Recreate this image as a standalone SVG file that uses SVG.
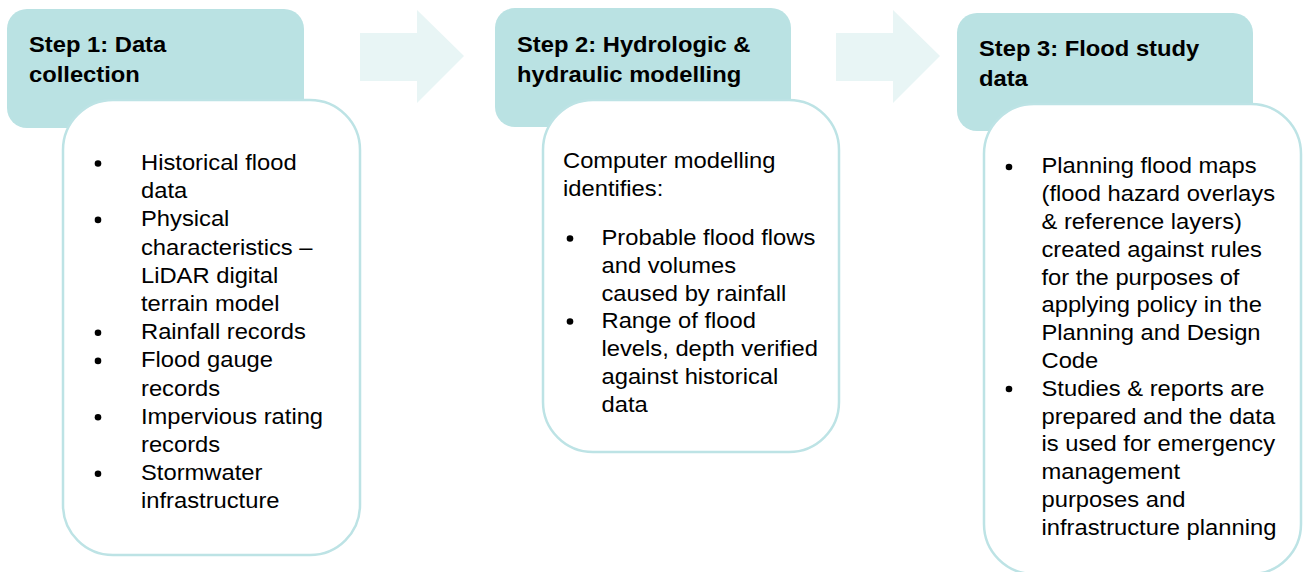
<svg xmlns="http://www.w3.org/2000/svg" width="1303" height="572" viewBox="0 0 1303 572">
<style>
.hdr{fill:#BAE2E3;}
.card{fill:#FFFFFF;stroke:#BDE3E5;stroke-width:2.5;}
.arrow{fill:#E8F5F5;}
.ht{font-family:"Liberation Sans",Arial,sans-serif;font-size:22px;font-weight:bold;fill:#000;}
.bt{font-family:"Liberation Sans",Arial,sans-serif;font-size:22px;fill:#000;}
.dot{fill:#000;}
</style>
<rect width="1303" height="572" fill="#FFFFFF"/>
<g id="connectors">
<polygon class="arrow" points="360,33 417,33 417,10 464,56 417,103 417,81 360,81"/>
<polygon class="arrow" points="836,33 893,33 893,10 940,56 893,103 893,81 836,81"/>
</g>
<g id="step1">
<rect class="hdr" x="7" y="9" width="297" height="119" rx="20"/>
<g transform="translate(29,0) scale(1.08,1)">
<text class="ht"><tspan x="0" y="52">Step 1: Data</tspan><tspan x="0" y="82">collection</tspan></text>
</g>
<rect class="card" x="63" y="100" width="297" height="455" rx="50"/>
<circle class="dot" cx="98" cy="163.5" r="3.3"/>
<circle class="dot" cx="98" cy="219.9" r="3.3"/>
<circle class="dot" cx="98" cy="332.7" r="3.3"/>
<circle class="dot" cx="98" cy="360.9" r="3.3"/>
<circle class="dot" cx="98" cy="417.3" r="3.3"/>
<circle class="dot" cx="98" cy="473.7" r="3.3"/>
<g transform="translate(141,0) scale(1.08,1)">
<text class="bt">
<tspan x="0" y="170">Historical flood</tspan>
<tspan x="0" y="198.2">data</tspan>
<tspan x="0" y="226.4">Physical</tspan>
<tspan x="0" y="254.6">characteristics –</tspan>
<tspan x="0" y="282.8">LiDAR digital</tspan>
<tspan x="0" y="311">terrain model</tspan>
<tspan x="0" y="339.2">Rainfall records</tspan>
<tspan x="0" y="367.4">Flood gauge</tspan>
<tspan x="0" y="395.6">records</tspan>
<tspan x="0" y="423.8">Impervious rating</tspan>
<tspan x="0" y="452">records</tspan>
<tspan x="0" y="480.2">Stormwater</tspan>
<tspan x="0" y="508.4">infrastructure</tspan>
</text>
</g>
</g>
<g id="step2">
<rect class="hdr" x="495" y="8" width="296" height="119" rx="20"/>
<g transform="translate(517,0) scale(1.08,1)">
<text class="ht"><tspan x="0" y="52">Step 2: Hydrologic &amp;</tspan><tspan x="0" y="82">hydraulic modelling</tspan></text>
</g>
<rect class="card" x="543" y="100" width="296" height="352" rx="50"/>
<circle class="dot" cx="570" cy="238.5" r="3.3"/>
<circle class="dot" cx="570" cy="321.5" r="3.3"/>
<g transform="translate(563,0) scale(1.08,1)">
<text class="bt"><tspan x="0" y="168">Computer modelling</tspan><tspan x="0" y="196">identifies:</tspan></text>
</g>
<g transform="translate(601.5,0) scale(1.08,1)">
<text class="bt">
<tspan x="0" y="245">Probable flood flows</tspan>
<tspan x="0" y="272.8">and volumes</tspan>
<tspan x="0" y="300.6">caused by rainfall</tspan>
<tspan x="0" y="328.4">Range of flood</tspan>
<tspan x="0" y="356.2">levels, depth verified</tspan>
<tspan x="0" y="384">against historical</tspan>
<tspan x="0" y="411.8">data</tspan>
</text>
</g>
</g>
<g id="step3">
<rect class="hdr" x="957" y="13" width="296" height="118" rx="20"/>
<g transform="translate(979,0) scale(1.08,1)">
<text class="ht"><tspan x="0" y="56">Step 3: Flood study</tspan><tspan x="0" y="86">data</tspan></text>
</g>
<rect class="card" x="984" y="104" width="317" height="470" rx="50"/>
<circle class="dot" cx="1009" cy="167" r="3.3"/>
<circle class="dot" cx="1009" cy="389" r="3.3"/>
<g transform="translate(1041.5,0) scale(1.08,1)">
<text class="bt">
<tspan x="0" y="173.5">Planning flood maps</tspan>
<tspan x="0" y="201.3">(flood hazard overlays</tspan>
<tspan x="0" y="229.1">&amp; reference layers)</tspan>
<tspan x="0" y="256.9">created against rules</tspan>
<tspan x="0" y="284.7">for the purposes of</tspan>
<tspan x="0" y="312.5">applying policy in the</tspan>
<tspan x="0" y="340.3">Planning and Design</tspan>
<tspan x="0" y="368.1">Code</tspan>
<tspan x="0" y="395.9">Studies &amp; reports are</tspan>
<tspan x="0" y="423.7">prepared and the data</tspan>
<tspan x="0" y="451.5">is used for emergency</tspan>
<tspan x="0" y="479.3">management</tspan>
<tspan x="0" y="507.1">purposes and</tspan>
<tspan x="0" y="534.9">infrastructure planning</tspan>
</text>
</g>
</g>
</svg>
